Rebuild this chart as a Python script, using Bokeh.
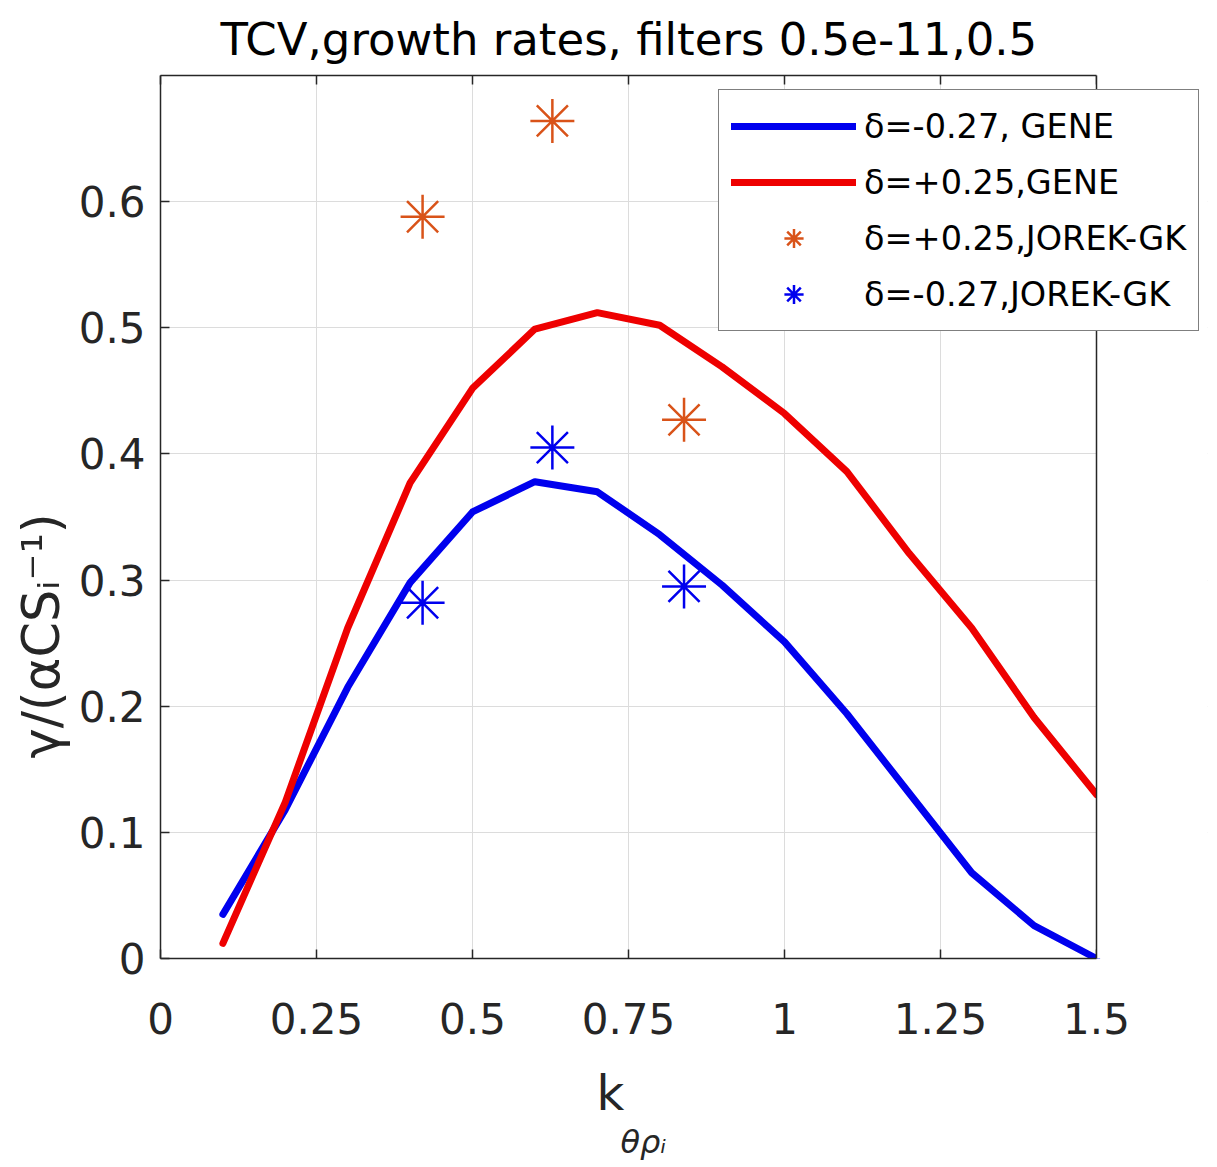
from bokeh.plotting import figure
from bokeh.models import (Legend, LegendItem, LinearAxis, FixedTicker, Range1d,
                          Title, Span, BoxAnnotation)
from bokeh.embed import file_html
from bokeh.resources import INLINE

# ---------------- data ----------------
title_text = "TCV,growth rates, filters 0.5e-11,0.5"

k_gene = [0.1, 0.2, 0.3, 0.4, 0.5, 0.6, 0.7, 0.8, 0.9, 1.0, 1.1, 1.2, 1.3, 1.4, 1.5]
gamma_gene_neg = [0.035, 0.118, 0.215, 0.298, 0.354, 0.378, 0.370, 0.336, 0.296,
                  0.251, 0.194, 0.131, 0.068, 0.026, 0.0]
gamma_gene_pos = [0.012, 0.124, 0.262, 0.377, 0.452, 0.499, 0.512, 0.502, 0.469,
                  0.432, 0.386, 0.321, 0.262, 0.191, 0.130]

k_jorek = [0.42, 0.628, 0.839]
gamma_jorek_pos = [0.588, 0.664, 0.427]
gamma_jorek_neg = [0.282, 0.405, 0.295]

series_labels = ["δ=-0.27, GENE", "δ=+0.25,GENE", "δ=+0.25,JOREK-GK", "δ=-0.27,JOREK-GK"]

x_min, x_max = 0.0, 1.5
y_min, y_max = 0.0, 0.7
x_ticks = [0, 0.25, 0.5, 0.75, 1.0, 1.25, 1.5]
x_tick_labels = ["0", "0.25", "0.5", "0.75", "1", "1.25", "1.5"]
y_ticks = [0, 0.1, 0.2, 0.3, 0.4, 0.5, 0.6]
y_tick_labels = ["0", "0.1", "0.2", "0.3", "0.4", "0.5", "0.6"]

y_label_text = "γ/(αCSᵢ⁻¹)"
x_label_main = "k"
x_label_sub = "θρᵢ"

# ---------------- style ----------------
FONT = "DejaVu Sans"
AX = "#262626"
BLUE = "#0000EE"
RED = "#EE0000"
ORANGE = "#D95319"

AXES_W = 936          # pixel width of the axes box (0 .. 1.5)
EXTRA_W = 111         # room to the right of the box, where the legend overhangs
x_view_end = x_max + (x_max - x_min) * EXTRA_W / AXES_W

p = figure(frame_width=AXES_W + EXTRA_W, frame_height=883,
           x_range=Range1d(x_min, x_view_end), y_range=Range1d(y_min, y_max),
           output_backend="svg", toolbar_location=None,
           min_border_left=160, min_border_right=2,
           min_border_top=72, min_border_bottom=196,
           background_fill_color="white", border_fill_color="white")

p.outline_line_color = None

p.title.text = title_text
p.title.text_font = FONT
p.title.text_font_size = "45px"
p.title.text_font_style = "normal"
p.title.text_color = "black"
p.title.align = "left"
p.title.offset = 60
p.title.standoff = 20


def style_axis(ax, ticks, labels, show, bounds=None):
    ax.ticker = FixedTicker(ticks=ticks)
    if bounds is not None:
        ax.bounds = bounds
    ax.axis_line_color = AX
    ax.axis_line_width = 1.5
    ax.major_tick_in = 9
    ax.major_tick_out = 0
    ax.major_tick_line_color = AX
    ax.major_tick_line_width = 1.5
    ax.minor_tick_line_color = None
    if show:
        ax.major_label_overrides = dict(zip(ticks, labels))
        ax.major_label_text_font = FONT
        ax.major_label_text_font_size = "42px"
        ax.major_label_text_color = AX
    else:
        ax.major_label_overrides = {t: "" for t in ticks}
        ax.major_label_text_font_size = "1px"
        ax.major_label_standoff = 0


style_axis(p.xaxis[0], x_ticks, x_tick_labels, True, (x_min, x_max))
style_axis(p.yaxis[0], y_ticks, y_tick_labels, True)
p.xaxis[0].major_label_standoff = 44
p.yaxis[0].major_label_standoff = 15

top_axis = LinearAxis()
style_axis(top_axis, x_ticks, x_tick_labels, False, (x_min, x_max))
p.add_layout(top_axis, "above")

p.xgrid.ticker = FixedTicker(ticks=x_ticks)
p.ygrid.ticker = FixedTicker(ticks=y_ticks)
p.grid.grid_line_color = "#DCDCDC"
p.grid.grid_line_width = 1

# axis titles (real text, placed in the side panels)
p.add_layout(Title(text=y_label_text, align="left", offset=200,
                   text_font=FONT, text_font_size="51px",
                   text_font_style="normal", text_color=AX, standoff=10), "left")
# small gap between the tick labels and the x axis title
p.add_layout(Title(text=" ", text_font_size="12px", standoff=10), "below")
p.add_layout(Title(text=x_label_main, align="left", offset=436,
                   text_font=FONT, text_font_size="48px", vertical_align="bottom",
                   text_font_style="normal", text_color=AX, standoff=0), "below")
p.add_layout(Title(text=x_label_sub, align="left", offset=460,
                   text_font=FONT, text_font_size="32px",
                   text_font_style="italic", text_color=AX, standoff=0), "below")

# ---------------- data renderers ----------------
r_neg = p.line(k_gene, gamma_gene_neg, line_color=BLUE, line_width=7,
               line_join="round", line_cap="round")
r_pos = p.line(k_gene, gamma_gene_pos, line_color=RED, line_width=7,
               line_join="round", line_cap="round")
s_pos = p.scatter(k_jorek, gamma_jorek_pos, marker="asterisk", size=44,
                  line_color=ORANGE, line_width=2.5)
s_neg = p.scatter(k_jorek, gamma_jorek_neg, marker="asterisk", size=44,
                  line_color=BLUE, line_width=2.5)

# blank area right of the axes box, and the box's right edge
p.add_layout(BoxAnnotation(left=x_max, fill_color="white", fill_alpha=1.0,
                           line_color=None))
p.add_layout(Span(location=x_max, dimension="height", line_color=AX,
                  line_width=1.5))

legend = Legend(items=[
    LegendItem(label=series_labels[0], renderers=[r_neg]),
    LegendItem(label=series_labels[1], renderers=[r_pos]),
    LegendItem(label=series_labels[2], renderers=[s_pos]),
    LegendItem(label=series_labels[3], renderers=[s_neg]),
], location=(558, 627))
legend.label_text_font = FONT
legend.label_text_font_size = "33.5px"
legend.label_text_color = "black"
legend.glyph_width = 125
legend.glyph_height = 48
legend.label_height = 48
legend.spacing = 8
legend.padding = 12
legend.margin = 0
legend.label_standoff = 8
legend.border_line_color = "black"
legend.border_line_width = 1.5
legend.background_fill_color = "white"
legend.background_fill_alpha = 1.0
p.add_layout(legend, "center")

open("out.html", "w").write(file_html(p, INLINE))
